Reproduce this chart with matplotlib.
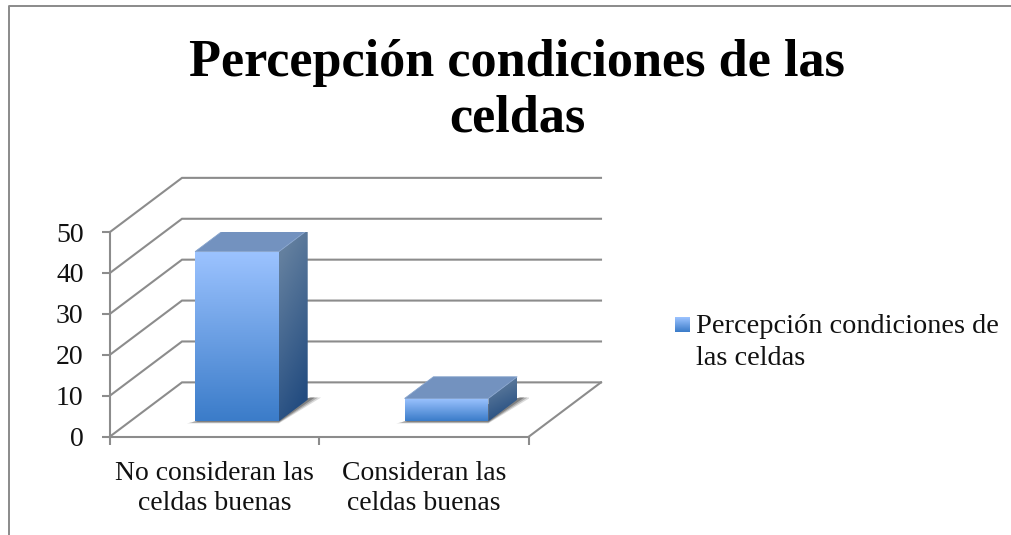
#!/usr/bin/env python3
import matplotlib
matplotlib.use("Agg")
import matplotlib.pyplot as plt
import numpy as np
from matplotlib.colors import to_rgb
from matplotlib.patches import Polygon

title_lines = ["Percepción condiciones de las", "celdas"]
categories = ["No consideran las\nceldas buenas", "Consideran las\nceldas buenas"]
values = [41.5, 5.6]
yticks = [0, 10, 20, 30, 40, 50]
series_label = ["Percepción condiciones de", "las celdas"]

W, H = 1012, 535
GRID = "#8c8c8c"
TEXT = "#111111"
SERIF = ["Liberation Serif", "DejaVu Serif"]

# one unit of depth, in data units of the front plane
DX = 72 / 209.5
DY = 54 / 4.08


def proj(x, y, d=0.0):
    return x + d * DX, y + d * DY


def gradient(ax, pts, top, bottom, angle=0.0):
    # vertical colour ramp clipped to a polygon
    poly = Polygon(pts, closed=True, transform=ax.transData, fc="none", ec="none")
    ax.add_patch(poly)
    xs, ys = zip(*pts)
    t = np.linspace(0, 1, 128)[:, None]
    u = np.linspace(0, 1, 32)[None, :]
    ramp = np.clip(t + angle * (u - 0.5), 0, 1)
    c0, c1 = np.array(to_rgb(top)), np.array(to_rgb(bottom))
    img = c0 + (c1 - c0) * ramp[..., None]
    im = ax.imshow(img, extent=(min(xs), max(xs), min(ys), max(ys)), origin="upper",
                   aspect="auto", zorder=3, interpolation="bilinear")
    im.set_clip_path(poly)


def draw_bar(ax, center, value, width=0.4, d0=0.28, d1=0.68):
    x0, x1 = center - width / 2, center + width / 2
    # soft shadow on the floor, a few layers
    for grow, alpha in ((1.0, 0.2), (0.7, 0.3), (0.4, 0.45)):
        shadow = [proj(x0 - 0.04 * grow, -0.5 * grow, d0), proj(x1, -0.5 * grow, d0),
                  proj(x1 + 0.05 * grow, 0, d1 + 0.04), proj(x1, 0, d1 + 0.04)]
        ax.add_patch(Polygon(shadow, closed=True, fc="#4a4a4a", ec="none", alpha=alpha, zorder=2))
    front = [proj(x0, value, d0), proj(x1, value, d0), proj(x1, 0, d0), proj(x0, 0, d0)]
    side = [proj(x1, value, d0), proj(x1, value, d1), proj(x1, 0, d1), proj(x1, 0, d0)]
    top = [proj(x0, value, d0), proj(x1, value, d0), proj(x1, value, d1), proj(x0, value, d1)]
    gradient(ax, front, "#9cc3ff", "#3b7cc9")
    gradient(ax, side, "#64809f", "#234c80", angle=0.3)
    ax.add_patch(Polygon(top, closed=True, fc="#7392bf", ec="#86a3cc", lw=0.6, zorder=4))


def main():
    fig = plt.figure(figsize=(W / 100, H / 100), dpi=100)
    fig.patch.set_facecolor("white")
    # chart frame: only left and top reach the picture
    fig.add_artist(plt.Line2D([9 / W, 9 / W, 1012 / W], [0, 1 - 6 / H, 1 - 6 / H],
                              transform=fig.transFigure, color="#8a8a8a", lw=1.4))

    ax = fig.add_axes([110 / W, (H - 436.5) / H, 419 / W, 204.5 / H])
    ax.patch.set_alpha(0)
    for s in ax.spines.values():
        s.set_visible(False)
    for name in ("left", "bottom"):
        ax.spines[name].set_visible(True)
        ax.spines[name].set_color(GRID)
        ax.spines[name].set_linewidth(1.5)

    # gridlines: side wall and back wall
    for v in yticks:
        p0, p1, p2 = proj(0, v), proj(0, v, 1), proj(2, v, 1)
        ax.plot([p0[0], p1[0], p2[0]], [p0[1], p1[1], p2[1]], color=GRID, lw=1.5,
                clip_on=False, zorder=1, solid_joinstyle="miter")
    # right edge of the floor
    p0, p1 = proj(2, 0), proj(2, 0, 1)
    ax.plot([p0[0], p1[0]], [p0[1], p1[1]], color=GRID, lw=1.5, clip_on=False, zorder=1)

    for i, v in enumerate(values):
        draw_bar(ax, i + 0.51, v)
    ax.set_xlim(0, 2)
    ax.set_ylim(0, 50)
    ax.set_aspect("auto")

    ax.set_yticks(yticks)
    ax.set_yticklabels([str(v) for v in yticks], family=SERIF, fontsize=20, color=TEXT)
    ax.set_xticks([0, 1, 2])
    ax.set_xticklabels([])
    ax.tick_params(axis="both", color=GRID, width=1.5, length=6)
    ax.tick_params(axis="y", pad=13)
    for i, label in enumerate(categories):
        ax.annotate(label, (i + 0.5, 0), xytext=(0, -25), textcoords="offset pixels",
                    ha="center", va="top", family=SERIF, fontsize=20, color=TEXT, linespacing=1.25)

    for text, y in zip(title_lines, (63, 118)):
        fig.text(517 / W, 1 - y / H, text, ha="center", va="center",
                 family=SERIF, fontsize=37.6, fontweight="bold", color="black")

    # legend
    swatch = fig.add_axes([675 / W, 1 - 332 / H, 15 / W, 15 / H])
    swatch.axis("off")
    t = np.linspace(0, 1, 32)[:, None]
    c0, c1 = np.array(to_rgb("#9cc3ff")), np.array(to_rgb("#3b7cc9"))
    swatch.imshow(c0 + (c1 - c0) * t[..., None], aspect="auto", origin="upper")
    for text, y in zip(series_label, (333, 365)):
        fig.text(696 / W, 1 - y / H, text, ha="left", va="baseline", family=SERIF,
                 fontsize=20.4, color=TEXT)

    fig.savefig("out.png", dpi=100)
    plt.close(fig)


if __name__ == "__main__":
    main()
